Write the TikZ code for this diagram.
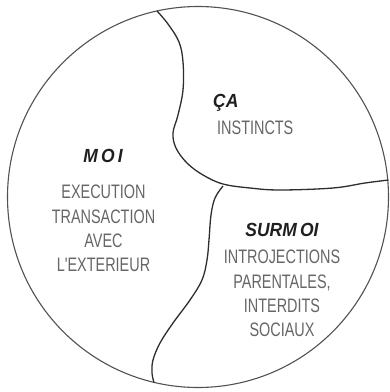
\documentclass[tikz,border=0pt]{standalone}
\usepackage{fontspec}
\newfontfamily\bodyfont[FakeStretch=0.74]{Liberation Sans}
\newfontfamily\titlefont[FakeStretch=0.92]{Liberation Sans}
\begin{document}
\begin{tikzpicture}[x=1pt,y=-1pt,
  bodytext/.style={inner sep=0pt, align=center, text=black!60,
    font=\bodyfont\fontsize{19.5}{24.2}\selectfont},
  titletext/.style={inner sep=0pt, text=black!88,
    font=\titlefont\fontsize{19}{22}\selectfont\bfseries\itshape},
  border/.style={draw=black!68, line width=1.1pt},
  divider/.style={draw=black!82, line width=1.3pt, line join=round}]
\useasboundingbox[fill=white] (0,0) rectangle (390,392);
% outer circle
\draw[border] (198,197) circle[radius=190.5];
% boundary MOI / CA
\draw[divider] plot[smooth, tension=0.6] coordinates {
  (157,11) (168,24) (179,42) (183,62) (183,90) (178,115) (173,133)
  (176,148) (187,163) (203,175) (223,184) (250,188) (280,190)
  (333,188) (365,183) (388.5,180)};
% boundary MOI / SURMOI
\draw[divider] plot[smooth, tension=0.6] coordinates {
  (223,186) (215,198) (211,215) (209,240) (207,260) (202,280)
  (190,300) (173,323) (160,343) (153,360) (152,373) (154,382.5)};
% texts
\node[titletext] (moi) at (103,156) {M\,O\,I};
\node[bodytext] (moibody) at (103.5,228.5) {EXECUTION\\TRANSACTION\\AVEC\\L'EXTERIEUR};
\node[titletext, anchor=base west] (ca) at (213,107) {ÇA};
\node[bodytext, anchor=base west] (cabody) at (217,134) {INSTINCTS};
\node[titletext] (surmoi) at (282,230) {SURM\,OI};
\node[bodytext] (surmoibody) at (282,293.5) {INTROJECTIONS\\PARENTALES,\\INTERDITS\\SOCIAUX};
\end{tikzpicture}
\end{document}
